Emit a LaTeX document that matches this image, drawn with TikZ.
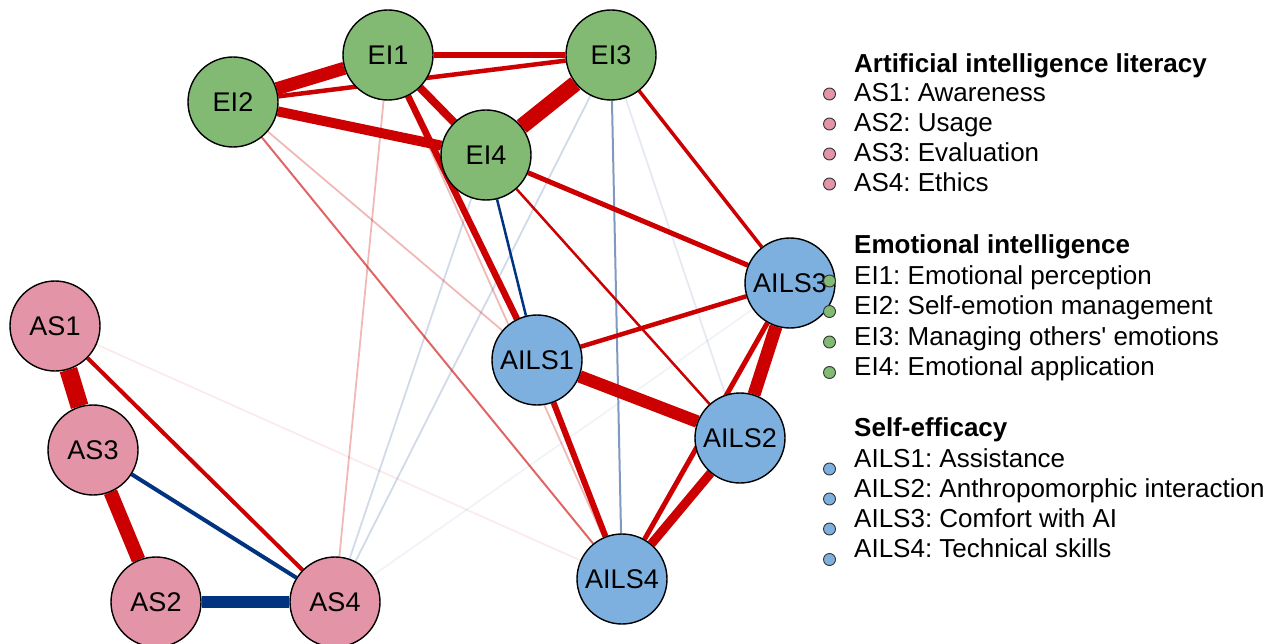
\documentclass[tikz,border=0pt]{standalone}
\usepackage{fontspec}
\setmainfont{Liberation Sans}
\frenchspacing
\definecolor{aspink}{RGB}{227,148,166}
\definecolor{eigreen}{RGB}{130,185,115}
\definecolor{ailsblue}{RGB}{125,176,222}
\definecolor{posred}{RGB}{204,0,0}
\definecolor{negblue}{RGB}{0,51,128}
\pgfdeclarelayer{edges}
\pgfsetlayers{edges,main}
\tikzset{
  var/.style={circle, draw=black, line width=1.4pt, minimum size=90pt, inner sep=0pt,
    font=\fontsize{27}{30}\selectfont},
  asnode/.style={var, fill=aspink},
  einode/.style={var, fill=eigreen},
  ailsnode/.style={var, fill=ailsblue},
  posedge/.style={draw=posred, line cap=butt},
  negedge/.style={draw=negblue, line cap=butt},
  legdot/.style={circle, draw=black!80, line width=0.9pt, minimum size=12pt, inner sep=0pt},
  legtext/.style={anchor=base west, inner sep=0pt, font=\fontsize{26}{29}\selectfont},
  leghead/.style={legtext, font=\fontsize{26}{29}\selectfont\bfseries}
}
\begin{document}
\begin{tikzpicture}[x=1pt, y=-1pt]
\useasboundingbox (0,0) rectangle (1276,644);

% variables
\node[einode] (EI1) at (388,55) {EI1};
\node[einode] (EI3) at (611,55) {EI3};
\node[einode] (EI2) at (233,102) {EI2};
\node[einode] (EI4) at (486,155) {EI4};
\node[ailsnode] (AILS3) at (790,283) {AILS3};
\node[ailsnode] (AILS1) at (537,360) {AILS1};
\node[ailsnode] (AILS2) at (740,438) {AILS2};
\node[ailsnode] (AILS4) at (622,579) {AILS4};
\node[asnode] (AS1) at (55,326) {AS1};
\node[asnode] (AS3) at (93,450) {AS3};
\node[asnode] (AS2) at (156,602) {AS2};
\node[asnode] (AS4) at (335,602) {AS4};

\begin{pgfonlayer}{edges}
% weak associations
\draw[negedge, line width=1.8pt, draw opacity=0.06] (AS4) -- (AILS3);
\draw[negedge, line width=1.8pt, draw opacity=0.10] (EI3) -- (AILS2);
\draw[posedge, line width=1.8pt, draw opacity=0.08] (AS1) -- (AILS4);
\draw[negedge, line width=1.8pt, draw opacity=0.18] (AS4) -- (EI4);
\draw[negedge, line width=1.8pt, draw opacity=0.18] (AS4) -- (EI3);
\draw[posedge, line width=1.8pt, draw opacity=0.28] (EI1) -- (AS4);
\draw[posedge, line width=1.8pt, draw opacity=0.28] (EI2) -- (AILS1);
\draw[posedge, line width=1.8pt, draw opacity=0.28] (EI1) -- (AILS4);
\draw[posedge, line width=2pt, draw opacity=0.6] (EI2) -- (AILS4);
\draw[negedge, line width=2pt, draw opacity=0.5] (EI3) -- (AILS4);
% emotional intelligence
\draw[posedge, line width=4.5pt] (EI2) -- (EI3);
\draw[posedge, line width=5.5pt] (EI1) -- (EI3);
\draw[posedge, line width=13pt] (EI1) -- (EI2);
\draw[posedge, line width=10pt] (EI2) -- (EI4);
\draw[posedge, line width=8pt] (EI1) -- (EI4);
\draw[posedge, line width=16pt] (EI3) -- (EI4);
% between clusters
\draw[posedge, line width=6.5pt] (EI1) -- (AILS1);
\draw[posedge, line width=5pt] (EI4) -- (AILS3);
\draw[posedge, line width=3.5pt] (EI3) -- (AILS3);
\draw[posedge, line width=2.5pt] (EI4) -- (AILS2);
\draw[negedge, line width=2.5pt] (EI4) -- (AILS1);
% self-efficacy
\draw[posedge, line width=4.5pt] (AILS1) -- (AILS3);
\draw[posedge, line width=12.5pt] (AILS1) -- (AILS2);
\draw[posedge, line width=6pt] (AILS1) -- (AILS4);
\draw[posedge, line width=13pt] (AILS2) -- (AILS3);
\draw[posedge, line width=5pt] (AILS3) -- (AILS4);
\draw[posedge, line width=9pt] (AILS2) -- (AILS4);
% AI literacy
\draw[posedge, line width=18pt] (AS1) -- (AS3);
\draw[posedge, line width=14pt] (AS3) -- (AS2);
\draw[posedge, line width=4pt] (AS1) -- (AS4);
\draw[negedge, line width=4pt] (AS3) -- (AS4);
\draw[negedge, line width=12pt] (AS2) -- (AS4);
\end{pgfonlayer}

% legend
\node[leghead] (h1) at (854,72.5) {Artificial intelligence literacy};
\node[legtext] (l1) at (854,102) {AS1: Awareness};
\node[legtext] (l2) at (854,132) {AS2: Usage};
\node[legtext] (l3) at (854,162) {AS3: Evaluation};
\node[legtext] (l4) at (854,192) {AS4: Ethics};
\node[leghead] (h2) at (854,254) {Emotional intelligence};
\node[legtext] (l5) at (854,284) {EI1: Emotional perception};
\node[legtext] (l6) at (854,314.5) {EI2: Self-emotion management};
\node[legtext] (l7) at (854,345) {EI3: Managing others\textquotesingle\ emotions};
\node[legtext] (l8) at (854,375.5) {EI4: Emotional application};
\node[leghead] (h3) at (854,436) {Self-efficacy};
\node[legtext] (l9) at (854,467) {AILS1: Assistance};
\node[legtext] (l10) at (854,497) {AILS2: Anthropomorphic interaction};
\node[legtext] (l11) at (854,527) {AILS3: Comfort with AI};
\node[legtext] (l12) at (854,557.5) {AILS4: Technical skills};

\node[legdot, fill=aspink] (d1) at (829.5,94) {};
\node[legdot, fill=aspink] (d2) at (829.5,124) {};
\node[legdot, fill=aspink] (d3) at (829.5,154) {};
\node[legdot, fill=aspink] (d4) at (829.5,184) {};
\node[legdot, fill=eigreen] (d5) at (829.5,281) {};
\node[legdot, fill=eigreen] (d6) at (829.5,311.5) {};
\node[legdot, fill=eigreen] (d7) at (829.5,342) {};
\node[legdot, fill=eigreen] (d8) at (829.5,372.5) {};
\node[legdot, fill=ailsblue] (d9) at (829.5,469) {};
\node[legdot, fill=ailsblue] (d10) at (829.5,499) {};
\node[legdot, fill=ailsblue] (d11) at (829.5,529) {};
\node[legdot, fill=ailsblue] (d12) at (829.5,559.5) {};
\end{tikzpicture}
\end{document}
